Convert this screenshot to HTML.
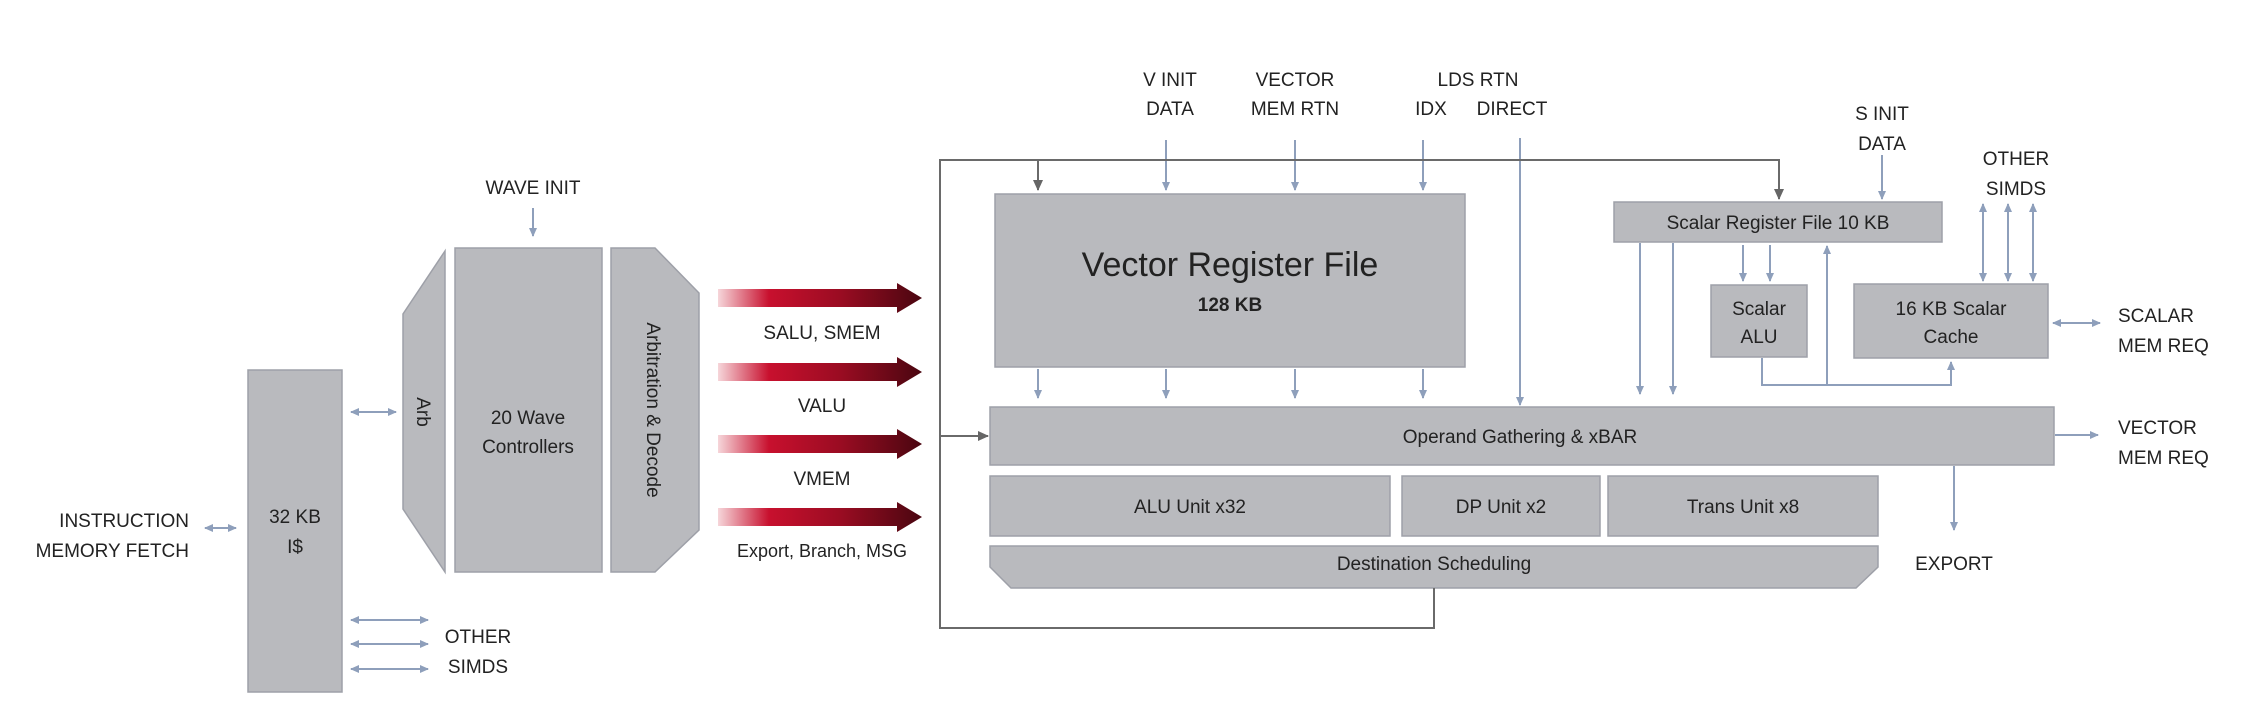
<!DOCTYPE html>
<html><head><meta charset="utf-8"><style>
html,body{margin:0;padding:0;background:#fff;}
svg{display:block;}
text{font-family:"Liberation Sans",sans-serif;fill:#222;}
</style></head><body>
<svg width="2256" height="704" viewBox="0 0 2256 704" xmlns="http://www.w3.org/2000/svg">
<defs>
<marker id="ab" markerWidth="10" markerHeight="10" refX="8" refY="5" orient="auto-start-reverse" markerUnits="userSpaceOnUse">
<path d="M0,1 L9,5 L0,9 Z" fill="#8e9fbb"/></marker>
<marker id="ag" markerWidth="12" markerHeight="12" refX="10" refY="6" orient="auto-start-reverse" markerUnits="userSpaceOnUse">
<path d="M0,1 L11,6 L0,11 Z" fill="#666"/></marker>
<linearGradient id="rg" x1="0" x2="1" y1="0" y2="0">
<stop offset="0" stop-color="#f6d6da"/>
<stop offset="0.25" stop-color="#c8102e"/>
<stop offset="0.6" stop-color="#9a0c22"/>
<stop offset="1" stop-color="#4a0610"/>
</linearGradient>
</defs>
<g fill="#b9babe" stroke="#9ea0a8" stroke-width="1.5">
<rect x="248" y="370" width="94" height="322"/>
<polygon points="445,251 403,314 403,509 445,572"/>
<rect x="455" y="248" width="147" height="324"/>
<polygon points="611,248 655,248 699,293 699,530 655,572 611,572"/>
<rect x="995" y="194" width="470" height="173"/>
<rect x="990" y="407" width="1064" height="58"/>
<rect x="990" y="476" width="400" height="60"/>
<rect x="1402" y="476" width="198" height="60"/>
<rect x="1608" y="476" width="270" height="60"/>
<polygon points="990,546 1878,546 1878,567 1856,588 1011,588 990,567"/>
<rect x="1614" y="202" width="328" height="40"/>
<rect x="1711" y="285" width="96" height="72"/>
<rect x="1854" y="284" width="194" height="74"/>
</g>
<!-- red arrows -->
<g fill="url(#rg)">
<polygon points="718,289 897,289 897,283 922,298 897,313 897,307 718,307"/>
<polygon points="718,363 897,363 897,357 922,372 897,387 897,381 718,381"/>
<polygon points="718,435 897,435 897,429 922,444 897,459 897,453 718,453"/>
<polygon points="718,508 897,508 897,502 922,517 897,532 897,526 718,526"/>
</g>
<!-- blue connectors -->
<g stroke="#8e9fbb" stroke-width="2" fill="none">
<line x1="533" y1="208" x2="533" y2="236" marker-end="url(#ab)"/>
<line x1="205" y1="528" x2="236" y2="528" marker-start="url(#ab)" marker-end="url(#ab)"/>
<line x1="351" y1="412" x2="396" y2="412" marker-start="url(#ab)" marker-end="url(#ab)"/>
<line x1="351" y1="620" x2="428" y2="620" marker-start="url(#ab)" marker-end="url(#ab)"/>
<line x1="351" y1="644" x2="428" y2="644" marker-start="url(#ab)" marker-end="url(#ab)"/>
<line x1="351" y1="669" x2="428" y2="669" marker-start="url(#ab)" marker-end="url(#ab)"/>
<line x1="1166" y1="140" x2="1166" y2="190" marker-end="url(#ab)"/>
<line x1="1295" y1="140" x2="1295" y2="190" marker-end="url(#ab)"/>
<line x1="1423" y1="140" x2="1423" y2="190" marker-end="url(#ab)"/>
<line x1="1520" y1="138" x2="1520" y2="405" marker-end="url(#ab)"/>
<line x1="1038" y1="369" x2="1038" y2="398" marker-end="url(#ab)"/>
<line x1="1166" y1="369" x2="1166" y2="398" marker-end="url(#ab)"/>
<line x1="1295" y1="369" x2="1295" y2="398" marker-end="url(#ab)"/>
<line x1="1423" y1="369" x2="1423" y2="398" marker-end="url(#ab)"/>
<line x1="1882" y1="155" x2="1882" y2="199" marker-end="url(#ab)"/>
<line x1="1640" y1="243" x2="1640" y2="394" marker-end="url(#ab)"/>
<line x1="1673" y1="243" x2="1673" y2="394" marker-end="url(#ab)"/>
<line x1="1743" y1="245" x2="1743" y2="281" marker-end="url(#ab)"/>
<line x1="1770" y1="245" x2="1770" y2="281" marker-end="url(#ab)"/>
<line x1="1827" y1="385" x2="1827" y2="246" marker-end="url(#ab)"/>
<polyline points="1762,358 1762,385 1951,385 1951,362" marker-end="url(#ab)"/>
<line x1="1983" y1="204" x2="1983" y2="281" marker-start="url(#ab)" marker-end="url(#ab)"/>
<line x1="2008" y1="204" x2="2008" y2="281" marker-start="url(#ab)" marker-end="url(#ab)"/>
<line x1="2033" y1="204" x2="2033" y2="281" marker-start="url(#ab)" marker-end="url(#ab)"/>
<line x1="2053" y1="323" x2="2100" y2="323" marker-start="url(#ab)" marker-end="url(#ab)"/>
<line x1="2055" y1="435" x2="2098" y2="435" marker-end="url(#ab)"/>
<line x1="1954" y1="466" x2="1954" y2="530" marker-end="url(#ab)"/>
</g>
<!-- gray loop -->
<g stroke="#6a6a6a" stroke-width="2" fill="none">
<polyline points="1434,588 1434,628 940,628 940,160 1779,160 1779,199" marker-end="url(#ag)"/>
<line x1="1038" y1="160" x2="1038" y2="190" marker-end="url(#ag)"/>
<line x1="940" y1="436" x2="988" y2="436" marker-end="url(#ag)"/>
</g>
<g font-size="19" text-anchor="middle">
<text x="533" y="194">WAVE INIT</text>
<text x="295" y="523">32 KB</text>
<text x="295" y="553">I$</text>
<text x="189" y="527" text-anchor="end">INSTRUCTION</text>
<text x="189" y="557" text-anchor="end">MEMORY FETCH</text>
<text x="478" y="643">OTHER</text>
<text x="478" y="673">SIMDS</text>
<text x="528" y="424">20 Wave</text>
<text x="528" y="453">Controllers</text>
<text transform="translate(417,412) rotate(90)">Arb</text>
<text transform="translate(647,410) rotate(90)">Arbitration &amp; Decode</text>
<text x="822" y="339">SALU, SMEM</text>
<text x="822" y="412">VALU</text>
<text x="822" y="485">VMEM</text>
<text x="822" y="557" font-size="18">Export, Branch, MSG</text>
<text x="1170" y="86">V INIT</text>
<text x="1170" y="115">DATA</text>
<text x="1295" y="86">VECTOR</text>
<text x="1295" y="115">MEM RTN</text>
<text x="1478" y="86">LDS RTN</text>
<text x="1431" y="115">IDX</text>
<text x="1512" y="115">DIRECT</text>
<text x="1882" y="120">S INIT</text>
<text x="1882" y="150">DATA</text>
<text x="2016" y="165">OTHER</text>
<text x="2016" y="195">SIMDS</text>
<text x="1230" y="276" font-size="34">Vector Register File</text>
<text x="1230" y="311" font-weight="bold">128 KB</text>
<text x="1778" y="229">Scalar Register File 10 KB</text>
<text x="1759" y="315">Scalar</text>
<text x="1759" y="343">ALU</text>
<text x="1951" y="315">16 KB Scalar</text>
<text x="1951" y="343">Cache</text>
<text x="1520" y="443">Operand Gathering &amp; xBAR</text>
<text x="1190" y="513">ALU Unit  x32</text>
<text x="1501" y="513">DP Unit x2</text>
<text x="1743" y="513">Trans Unit  x8</text>
<text x="1434" y="570">Destination Scheduling</text>
<text x="2118" y="322" text-anchor="start">SCALAR</text>
<text x="2118" y="352" text-anchor="start">MEM REQ</text>
<text x="2118" y="434" text-anchor="start">VECTOR</text>
<text x="2118" y="464" text-anchor="start">MEM REQ</text>
<text x="1954" y="570">EXPORT</text>
</g>
</svg>
</body></html>
